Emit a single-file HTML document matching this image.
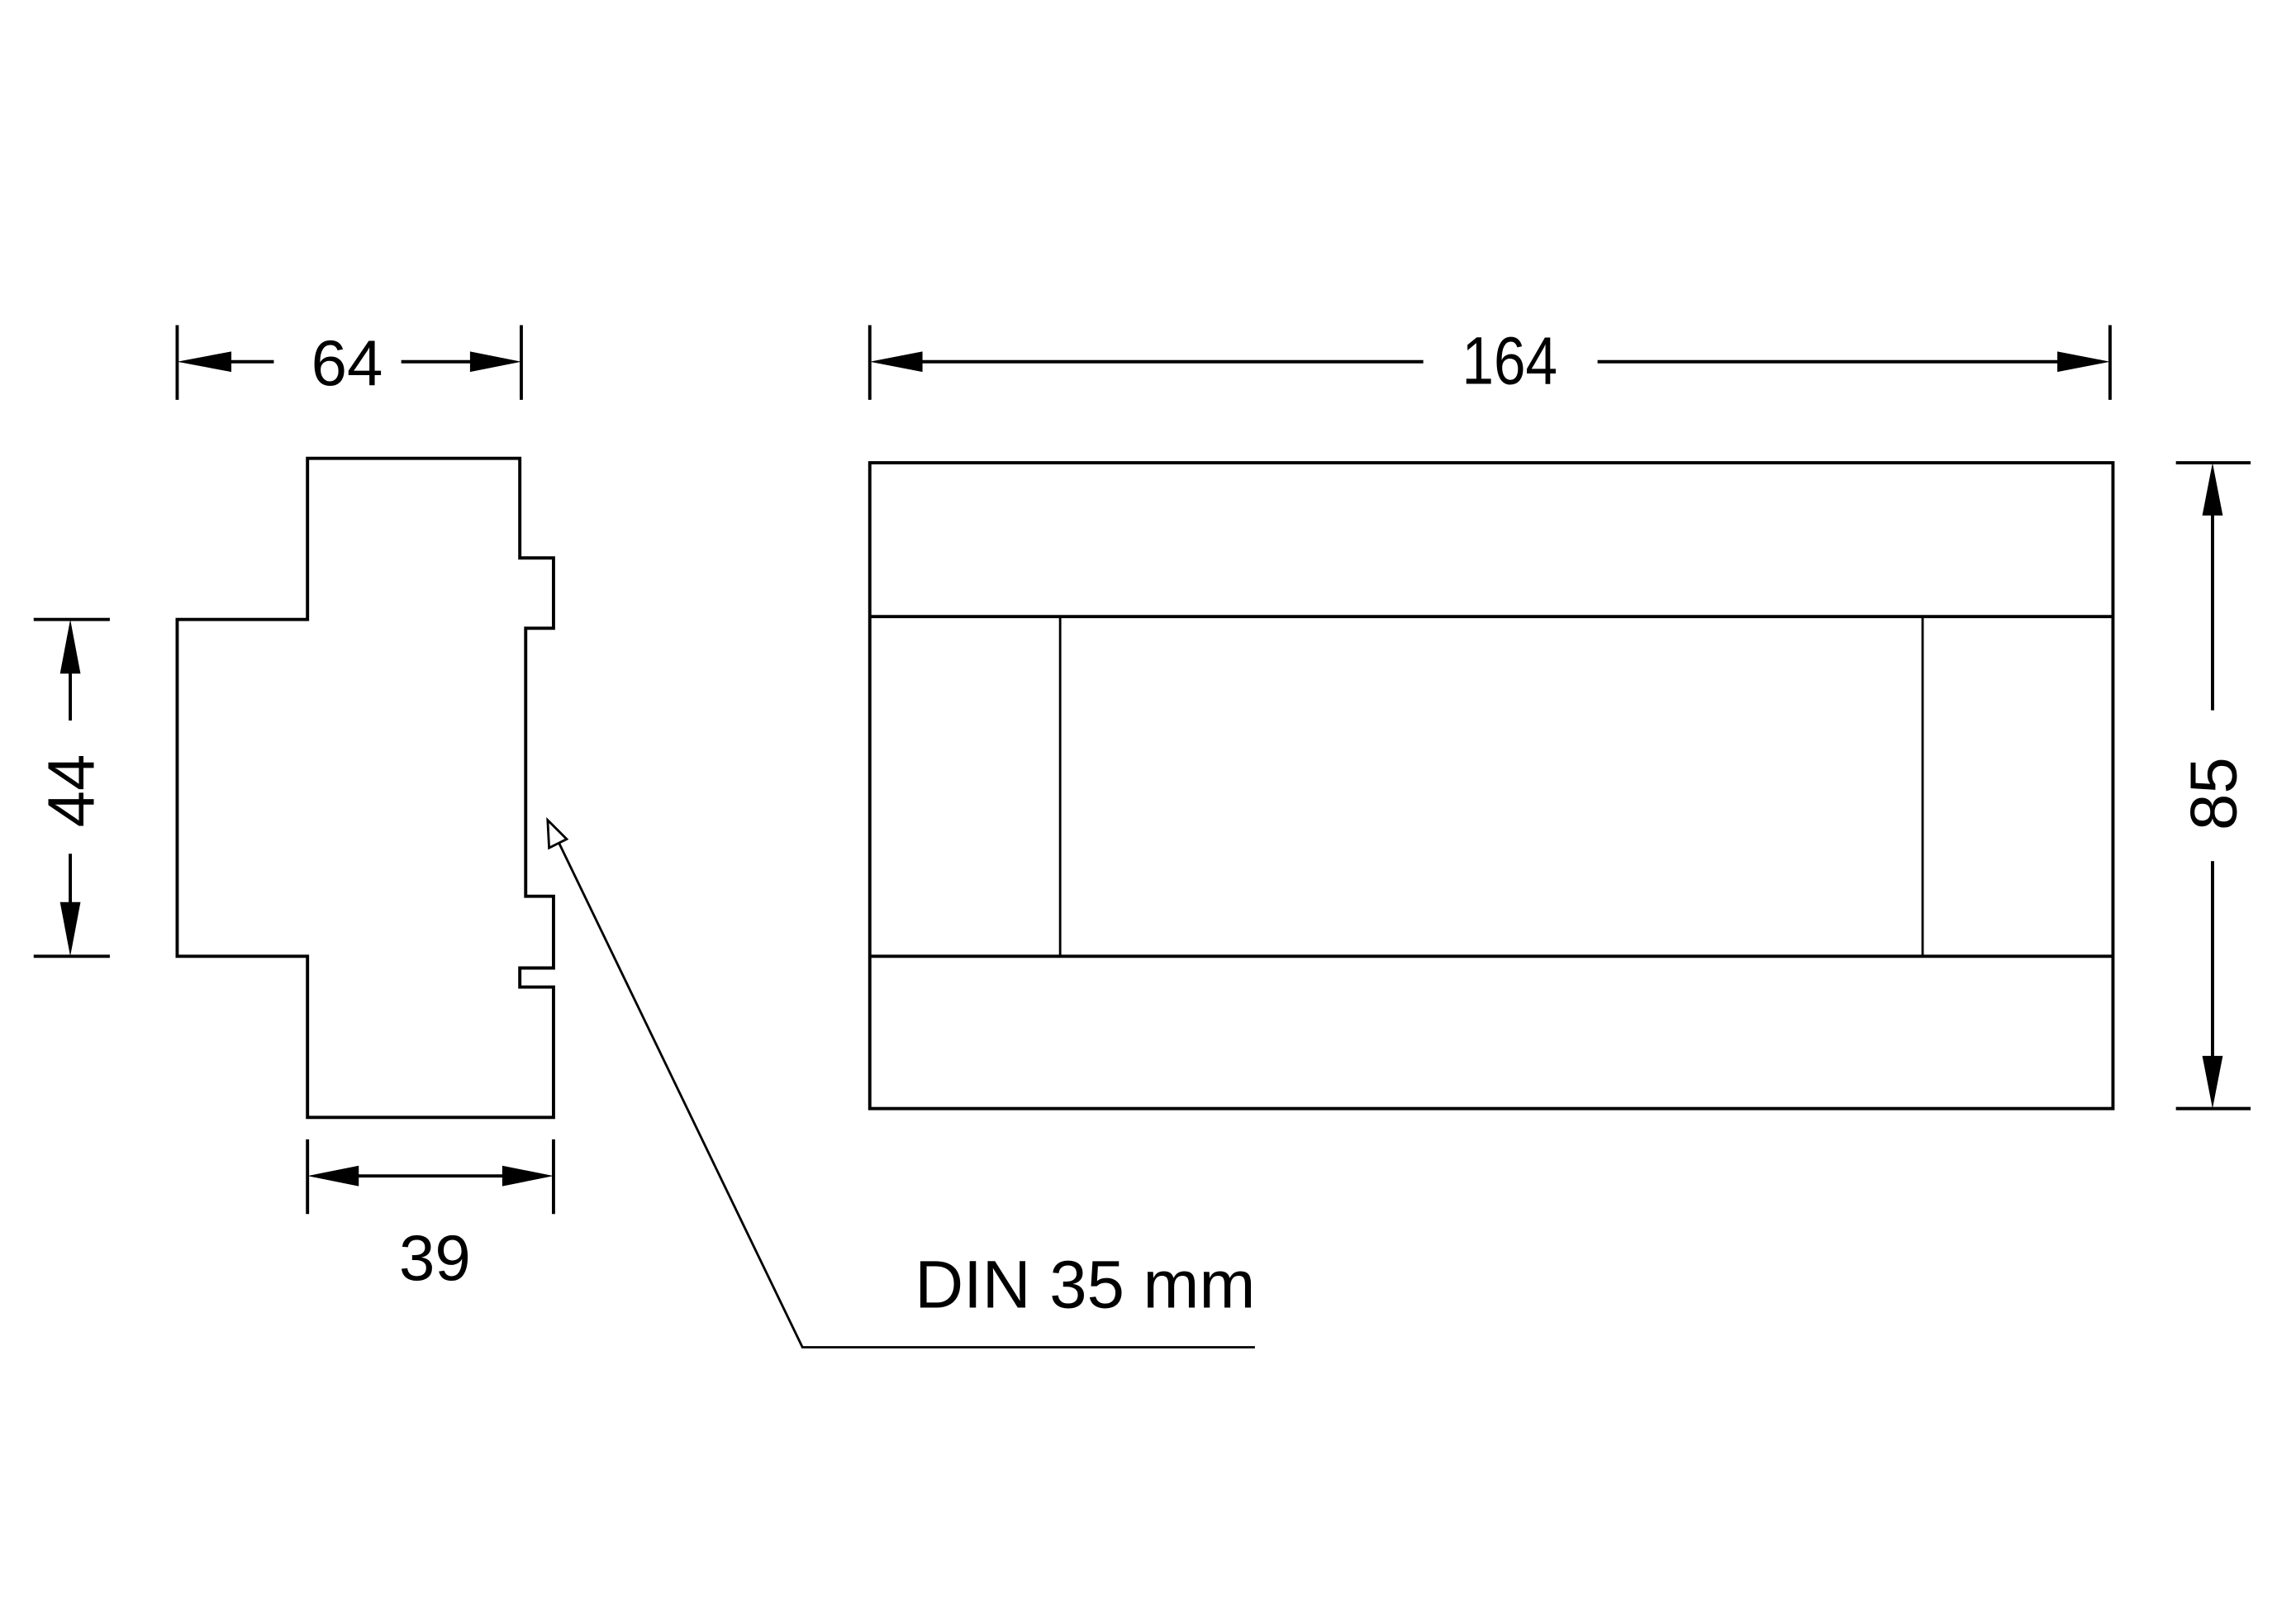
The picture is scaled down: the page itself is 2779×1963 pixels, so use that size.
<!DOCTYPE html>
<html><head><meta charset="utf-8"><style>
html,body{margin:0;padding:0;background:#fff;width:2779px;height:1963px;overflow:hidden}
svg{display:block}
text{font-family:"Liberation Sans",sans-serif;fill:#000}
</style></head><body>
<svg width="2779" height="1963" viewBox="0 0 1568 1107.6" preserveAspectRatio="none" xmlns="http://www.w3.org/2000/svg">
<g fill="none" stroke="#000" stroke-width="2.2">
<path d="M210,313 H355 V381 H378 V429 H359 V612 H378 V661 H355 V674 H378 V763 H210 V653 H121 V423 H210 Z"/>
<line x1="121" y1="222" x2="121" y2="273"/><line x1="356" y1="222" x2="356" y2="273"/>
<line x1="150" y1="247" x2="187" y2="247"/><line x1="274" y1="247" x2="330" y2="247"/>
<line x1="23" y1="423" x2="75" y2="423"/><line x1="23" y1="653" x2="75" y2="653"/>
<line x1="48" y1="450" x2="48" y2="492"/><line x1="48" y1="583" x2="48" y2="625"/>
<line x1="210" y1="778" x2="210" y2="829"/><line x1="378" y1="778" x2="378" y2="829"/>
<line x1="240" y1="803" x2="350" y2="803"/>
<polyline points="380,572 548,920 857,920" stroke-width="1.6"/>
<rect x="594" y="316" width="849" height="441"/>
<line x1="594" y1="421" x2="1443" y2="421"/><line x1="594" y1="653" x2="1443" y2="653"/>
<line x1="724" y1="421" x2="724" y2="653" stroke-width="1.6"/><line x1="1313" y1="421" x2="1313" y2="653" stroke-width="1.6"/>
<line x1="594" y1="222" x2="594" y2="273"/><line x1="1441" y1="222" x2="1441" y2="273"/>
<line x1="620" y1="247" x2="972" y2="247"/><line x1="1091" y1="247" x2="1415" y2="247"/>
<line x1="1486" y1="316" x2="1537" y2="316"/><line x1="1486" y1="757" x2="1537" y2="757"/>
<line x1="1511" y1="345" x2="1511" y2="485"/><line x1="1511" y1="588" x2="1511" y2="728"/>
</g>
<g fill="#000">
<polygon points="121,247 158,240 158,254"/><polygon points="356,247 321,240 321,254"/>
<polygon points="48,423 41,460 55,460"/><polygon points="48,653 41,616 55,616"/>
<polygon points="210,803 245,796 245,810"/><polygon points="378,803 343,796 343,810"/>
<polygon points="594,247 630,240 630,254"/><polygon points="1441,247 1405,240 1405,254"/>
<polygon points="1511,316 1504,352 1518,352"/><polygon points="1511,757 1504,721 1518,721"/>
</g>
<polygon points="374,560 375,579 387,573" fill="#fff" stroke="#000" stroke-width="1.6"/>
<text x="237" y="263" font-size="44" text-anchor="middle">64</text>
<text x="297" y="874" font-size="44" text-anchor="middle">39</text>
<text x="741" y="893" font-size="46" text-anchor="middle">DIN 35 mm</text>
<text x="1031" y="262" font-size="46" text-anchor="middle" transform="translate(1031,0) scale(0.85,1) translate(-1031,0)">164</text>
<text transform="translate(64,540) rotate(-90)" font-size="45" text-anchor="middle">44</text>
<text transform="translate(1527,542) rotate(-90)" font-size="45" text-anchor="middle">85</text>
</svg>
</body></html>
